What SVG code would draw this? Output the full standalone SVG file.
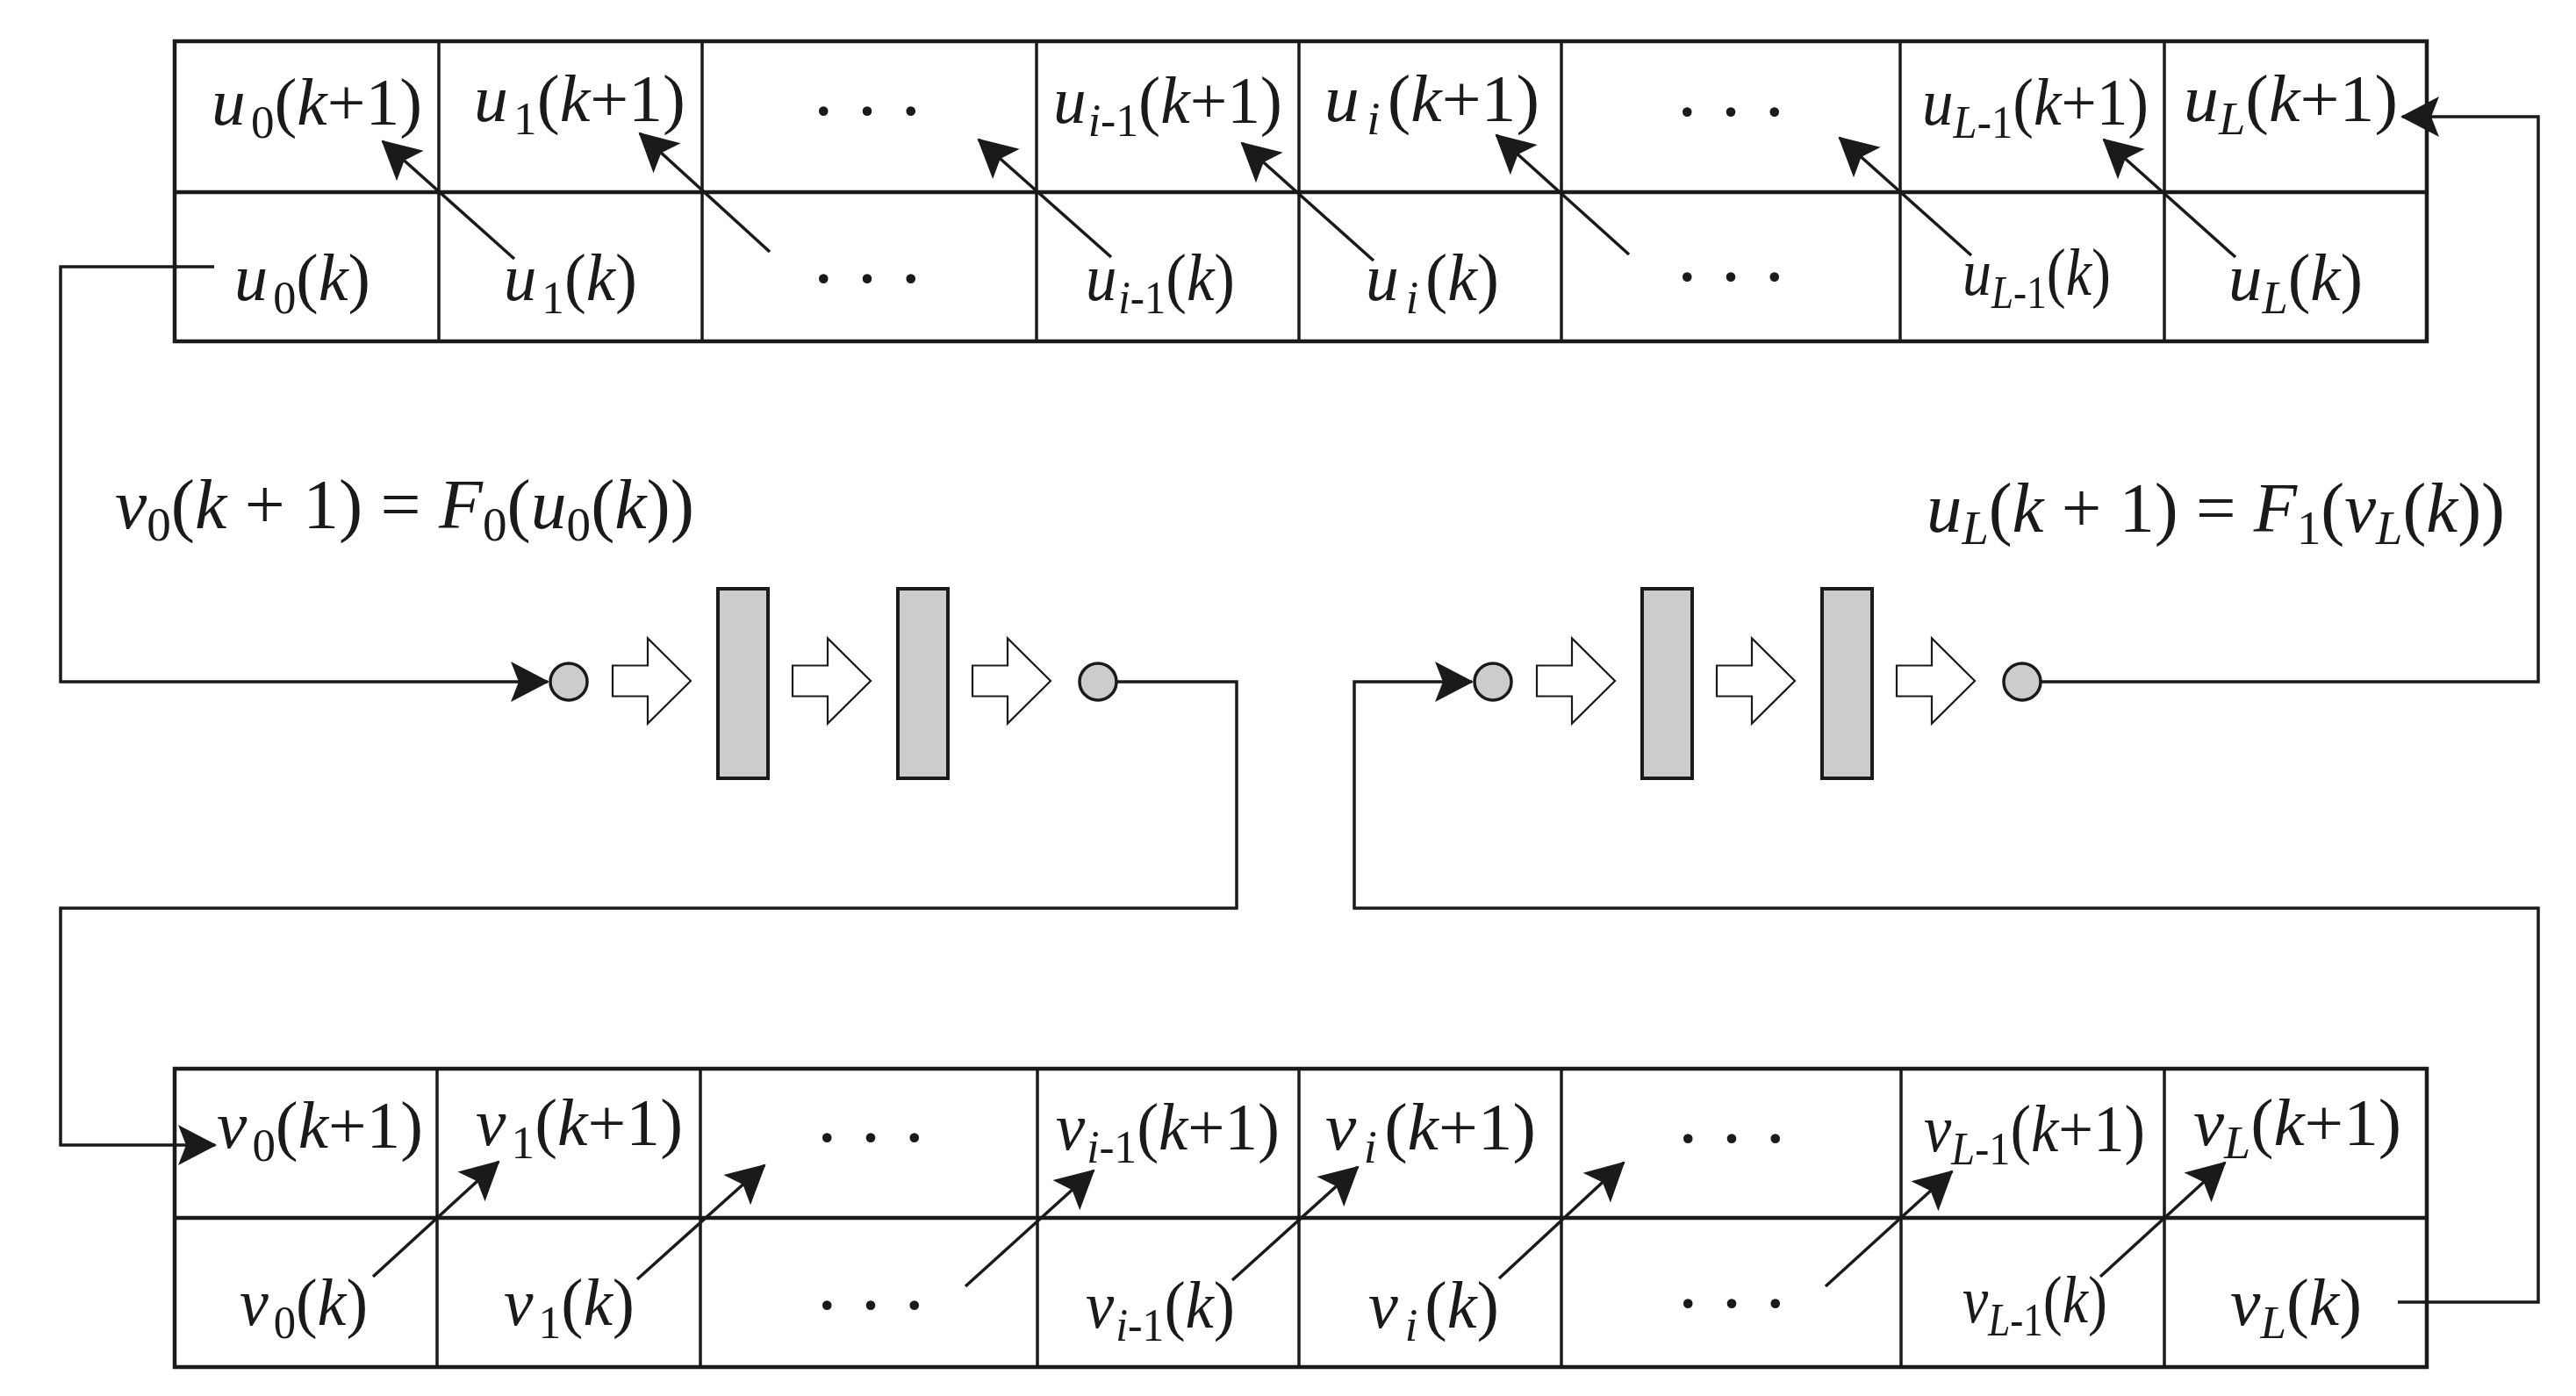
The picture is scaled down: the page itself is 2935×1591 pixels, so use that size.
<svg xmlns="http://www.w3.org/2000/svg" width="2935" height="1591" viewBox="0 0 2935 1591">
<style>
.t{font-family:"Liberation Serif","Times New Roman",serif;font-size:76px;fill:#1a1a1a}
.f{font-family:"Liberation Serif","Times New Roman",serif;font-size:80px;fill:#1a1a1a}
.d{font-family:"Liberation Serif","Times New Roman",serif;font-size:90px;fill:#1a1a1a}
.i{font-style:italic}
.s{font-size:52px}
.fs{font-size:54px}
.hl{stroke:#1a1a1a;stroke-width:4.5;fill:none}
.vl{stroke:#1a1a1a;stroke-width:3.5;fill:none}
.al{stroke:#1a1a1a;stroke-width:3.5;fill:none;marker-end:url(#ah)}
.cn{stroke:#1a1a1a;stroke-width:3.5;fill:none}
.ca{stroke:#1a1a1a;stroke-width:3.5;fill:none;marker-end:url(#ah)}
.node{fill:#cccccc;stroke:#1a1a1a;stroke-width:3.5}
.bar{fill:#cccccc;stroke:#1a1a1a;stroke-width:4}
.blk{fill:#ffffff;stroke:#1a1a1a;stroke-width:2.2}
</style>
<defs>
<marker id="ah" markerUnits="userSpaceOnUse" viewBox="-46 -26 50 52" markerWidth="50" markerHeight="52" refX="0" refY="0" orient="auto">
<path d="M2,0 L-42,-23 L-33,0 L-42,23 Z" fill="#1a1a1a"/>
</marker>
</defs>
<rect width="2935" height="1591" fill="#ffffff"/>

<!-- Top table (u) -->
<g id="u-table">
<rect class="hl" x="199" y="47" width="2566" height="342"/>
<line class="hl" x1="199" y1="219" x2="2765" y2="219"/>
<line class="vl" x1="500" y1="47" x2="500" y2="389"/>
<line class="vl" x1="800" y1="47" x2="800" y2="389"/>
<line class="vl" x1="1181" y1="47" x2="1181" y2="389"/>
<line class="vl" x1="1480" y1="47" x2="1480" y2="389"/>
<line class="vl" x1="1779" y1="47" x2="1779" y2="389"/>
<line class="vl" x1="2165" y1="47" x2="2165" y2="389"/>
<line class="vl" x1="2466" y1="47" x2="2466" y2="389"/>
</g>
<g id="u0-k1"><text class="t" x="241" y="142" textLength="240" lengthAdjust="spacingAndGlyphs"><tspan class="i">u</tspan><tspan class="s" dx="6" dy="15">0</tspan><tspan dy="-15">(</tspan><tspan class="i">k</tspan>+1)</text></g>
<g id="u1-k1"><text class="t" x="540" y="138" textLength="241" lengthAdjust="spacingAndGlyphs"><tspan class="i">u</tspan><tspan class="s" dx="6" dy="15">1</tspan><tspan dy="-15">(</tspan><tspan class="i">k</tspan>+1)</text></g>
<g id="udots-k1"><text class="d" x="927" y="131" textLength="122" lengthAdjust="spacing">. . .</text></g>
<g id="uim1-k1"><text class="t" x="1200" y="140" textLength="261" lengthAdjust="spacingAndGlyphs"><tspan class="i">u</tspan><tspan class="s" dx="2" dy="15"><tspan class="i">i</tspan>-1</tspan><tspan dy="-15">(</tspan><tspan class="i">k</tspan>+1)</text></g>
<g id="ui-k1"><text class="t" x="1509" y="138" textLength="245" lengthAdjust="spacingAndGlyphs"><tspan class="i">u</tspan><tspan class="s i" dx="8" dy="15">i</tspan><tspan dx="8" dy="-15">(</tspan><tspan class="i">k</tspan>+1)</text></g>
<g id="udots2-k1"><text class="d" x="1911" y="132" textLength="122" lengthAdjust="spacing">. . .</text></g>
<g id="uLm1-k1"><text class="t" x="2190" y="142" textLength="258" lengthAdjust="spacingAndGlyphs"><tspan class="i">u</tspan><tspan class="s" dy="15"><tspan class="i">L</tspan>-1</tspan><tspan dy="-15">(</tspan><tspan class="i">k</tspan>+1)</text></g>
<g id="uL-k1"><text class="t" x="2488" y="138" textLength="244" lengthAdjust="spacingAndGlyphs"><tspan class="i">u</tspan><tspan class="s i" dy="15">L</tspan><tspan dy="-15">(</tspan><tspan class="i">k</tspan>+1)</text></g>

<g id="u0-k"><text class="t" x="267" y="342" textLength="155" lengthAdjust="spacingAndGlyphs"><tspan class="i">u</tspan><tspan class="s" dx="6" dy="15">0</tspan><tspan dy="-15">(</tspan><tspan class="i">k</tspan>)</text></g>
<g id="u1-k"><text class="t" x="574" y="342" textLength="152" lengthAdjust="spacingAndGlyphs"><tspan class="i">u</tspan><tspan class="s" dx="6" dy="15">1</tspan><tspan dy="-15">(</tspan><tspan class="i">k</tspan>)</text></g>
<g id="udots-k"><text class="d" x="927" y="322" textLength="122" lengthAdjust="spacing">. . .</text></g>
<g id="uim1-k"><text class="t" x="1237" y="342" textLength="170" lengthAdjust="spacingAndGlyphs"><tspan class="i">u</tspan><tspan class="s" dx="2" dy="15"><tspan class="i">i</tspan>-1</tspan><tspan dy="-15">(</tspan><tspan class="i">k</tspan>)</text></g>
<g id="ui-k"><text class="t" x="1556" y="342" textLength="152" lengthAdjust="spacingAndGlyphs"><tspan class="i">u</tspan><tspan class="s i" dx="8" dy="15">i</tspan><tspan dx="8" dy="-15">(</tspan><tspan class="i">k</tspan>)</text></g>
<g id="udots2-k"><text class="d" x="1911" y="320" textLength="122" lengthAdjust="spacing">. . .</text></g>
<g id="uLm1-k"><text class="t" x="2236" y="336" textLength="169" lengthAdjust="spacingAndGlyphs"><tspan class="i">u</tspan><tspan class="s" dy="15"><tspan class="i">L</tspan>-1</tspan><tspan dy="-15">(</tspan><tspan class="i">k</tspan>)</text></g>
<g id="uL-k"><text class="t" x="2539" y="342" textLength="153" lengthAdjust="spacingAndGlyphs"><tspan class="i">u</tspan><tspan class="s i" dy="15">L</tspan><tspan dy="-15">(</tspan><tspan class="i">k</tspan>)</text></g>

<!-- Bottom table (v) -->
<g id="v-table">
<rect class="hl" x="199" y="1218" width="2566" height="340"/>
<line class="hl" x1="199" y1="1388" x2="2765" y2="1388"/>
<line class="vl" x1="498" y1="1218" x2="498" y2="1558"/>
<line class="vl" x1="798" y1="1218" x2="798" y2="1558"/>
<line class="vl" x1="1182" y1="1218" x2="1182" y2="1558"/>
<line class="vl" x1="1480" y1="1218" x2="1480" y2="1558"/>
<line class="vl" x1="1779" y1="1218" x2="1779" y2="1558"/>
<line class="vl" x1="2166" y1="1218" x2="2166" y2="1558"/>
<line class="vl" x1="2466" y1="1218" x2="2466" y2="1558"/>
</g>
<g id="v0-k1"><text class="t" x="247" y="1308" textLength="235" lengthAdjust="spacingAndGlyphs"><tspan class="i">v</tspan><tspan class="s" dx="6" dy="15">0</tspan><tspan dy="-15">(</tspan><tspan class="i">k</tspan>+1)</text></g>
<g id="v1-k1"><text class="t" x="542" y="1305" textLength="236" lengthAdjust="spacingAndGlyphs"><tspan class="i">v</tspan><tspan class="s" dx="6" dy="15">1</tspan><tspan dy="-15">(</tspan><tspan class="i">k</tspan>+1)</text></g>
<g id="vdots-k1"><text class="d" x="931" y="1301" textLength="122" lengthAdjust="spacing">. . .</text></g>
<g id="vim1-k1"><text class="t" x="1203" y="1310" textLength="255" lengthAdjust="spacingAndGlyphs"><tspan class="i">v</tspan><tspan class="s" dx="2" dy="15"><tspan class="i">i</tspan>-1</tspan><tspan dy="-15">(</tspan><tspan class="i">k</tspan>+1)</text></g>
<g id="vi-k1"><text class="t" x="1510" y="1310" textLength="240" lengthAdjust="spacingAndGlyphs"><tspan class="i">v</tspan><tspan class="s i" dx="8" dy="15">i</tspan><tspan dx="8" dy="-15">(</tspan><tspan class="i">k</tspan>+1)</text></g>
<g id="vdots2-k1"><text class="d" x="1912" y="1302" textLength="122" lengthAdjust="spacing">. . .</text></g>
<g id="vLm1-k1"><text class="t" x="2192" y="1312" textLength="252" lengthAdjust="spacingAndGlyphs"><tspan class="i">v</tspan><tspan class="s" dy="15"><tspan class="i">L</tspan>-1</tspan><tspan dy="-15">(</tspan><tspan class="i">k</tspan>+1)</text></g>
<g id="vL-k1"><text class="t" x="2499" y="1305" textLength="237" lengthAdjust="spacingAndGlyphs"><tspan class="i">v</tspan><tspan class="s i" dy="15">L</tspan><tspan dy="-15">(</tspan><tspan class="i">k</tspan>+1)</text></g>

<g id="v0-k"><text class="t" x="273" y="1510" textLength="146" lengthAdjust="spacingAndGlyphs"><tspan class="i">v</tspan><tspan class="s" dx="6" dy="15">0</tspan><tspan dy="-15">(</tspan><tspan class="i">k</tspan>)</text></g>
<g id="v1-k"><text class="t" x="574" y="1510" textLength="149" lengthAdjust="spacingAndGlyphs"><tspan class="i">v</tspan><tspan class="s" dx="6" dy="15">1</tspan><tspan dy="-15">(</tspan><tspan class="i">k</tspan>)</text></g>
<g id="vdots-k"><text class="d" x="931" y="1492" textLength="122" lengthAdjust="spacing">. . .</text></g>
<g id="vim1-k"><text class="t" x="1237" y="1513" textLength="170" lengthAdjust="spacingAndGlyphs"><tspan class="i">v</tspan><tspan class="s" dx="2" dy="15"><tspan class="i">i</tspan>-1</tspan><tspan dy="-15">(</tspan><tspan class="i">k</tspan>)</text></g>
<g id="vi-k"><text class="t" x="1559" y="1513" textLength="149" lengthAdjust="spacingAndGlyphs"><tspan class="i">v</tspan><tspan class="s i" dx="8" dy="15">i</tspan><tspan dx="8" dy="-15">(</tspan><tspan class="i">k</tspan>)</text></g>
<g id="vdots2-k"><text class="d" x="1912" y="1490" textLength="122" lengthAdjust="spacing">. . .</text></g>
<g id="vLm1-k"><text class="t" x="2236" y="1507" textLength="165" lengthAdjust="spacingAndGlyphs"><tspan class="i">v</tspan><tspan class="s" dy="15"><tspan class="i">L</tspan>-1</tspan><tspan dy="-15">(</tspan><tspan class="i">k</tspan>)</text></g>
<g id="vL-k"><text class="t" x="2541" y="1510" textLength="150" lengthAdjust="spacingAndGlyphs"><tspan class="i">v</tspan><tspan class="s i" dy="15">L</tspan><tspan dy="-15">(</tspan><tspan class="i">k</tspan>)</text></g>

<!-- Formulas -->
<g id="formula-F0"><text class="f" x="131" y="602" textLength="660" lengthAdjust="spacingAndGlyphs"><tspan class="i">v</tspan><tspan class="fs" dy="14">0</tspan><tspan dy="-14">(</tspan><tspan class="i">k</tspan> + 1) = <tspan class="i">F</tspan><tspan class="fs" dy="14">0</tspan><tspan dy="-14">(</tspan><tspan class="i">u</tspan><tspan class="fs" dy="14">0</tspan><tspan dy="-14">(</tspan><tspan class="i">k</tspan>))</text></g>
<g id="formula-F1"><text class="f" x="2195" y="606" textLength="659" lengthAdjust="spacingAndGlyphs"><tspan class="i">u</tspan><tspan class="fs i" dy="14">L</tspan><tspan dy="-14">(</tspan><tspan class="i">k</tspan> + 1) = <tspan class="i">F</tspan><tspan class="fs" dy="14">1</tspan><tspan dy="-14">(</tspan><tspan class="i">v</tspan><tspan class="fs i" dy="14">L</tspan><tspan dy="-14">(</tspan><tspan class="i">k</tspan>))</text></g>

<!-- Left processing chain F0 -->
<g id="F0-in"><circle class="node" cx="648" cy="777" r="21"/></g>
<g id="F0-a1"><path class="blk" d="M698,758.5 H738 V727.5 L787,776 L738,824.5 V793.5 H698 Z"/></g>
<g id="F0-bar1"><rect class="bar" x="818" y="671" width="57" height="216"/></g>
<g id="F0-a2"><path class="blk" d="M903,758.5 H943 V727.5 L992,776 L943,824.5 V793.5 H903 Z"/></g>
<g id="F0-bar2"><rect class="bar" x="1023" y="671" width="57" height="216"/></g>
<g id="F0-a3"><path class="blk" d="M1108,758.5 H1148 V727.5 L1197,776 L1148,824.5 V793.5 H1108 Z"/></g>
<g id="F0-out"><circle class="node" cx="1251" cy="777" r="21"/></g>

<!-- Right processing chain F1 -->
<g id="F1-in"><circle class="node" cx="1701" cy="777" r="21"/></g>
<g id="F1-a1"><path class="blk" d="M1751,758.5 H1791 V727.5 L1840,776 L1791,824.5 V793.5 H1751 Z"/></g>
<g id="F1-bar1"><rect class="bar" x="1871" y="671" width="57" height="216"/></g>
<g id="F1-a2"><path class="blk" d="M1956,758.5 H1996 V727.5 L2045,776 L1996,824.5 V793.5 H1956 Z"/></g>
<g id="F1-bar2"><rect class="bar" x="2076" y="671" width="57" height="216"/></g>
<g id="F1-a3"><path class="blk" d="M2161,758.5 H2201 V727.5 L2250,776 L2201,824.5 V793.5 H2161 Z"/></g>
<g id="F1-out"><circle class="node" cx="2304" cy="777" r="21"/></g>

<!-- Connectors -->
<g id="connectors">
<line class="al" x1="586" y1="295" x2="436" y2="161"/>
<line class="al" x1="877" y1="287" x2="729" y2="152"/>
<line class="al" x1="1266" y1="293" x2="1115" y2="159"/>
<line class="al" x1="1565" y1="297" x2="1415" y2="163"/>
<line class="al" x1="1856" y1="290" x2="1705" y2="154"/>
<line class="al" x1="2246" y1="291" x2="2096" y2="157"/>
<line class="al" x1="2547" y1="293" x2="2397" y2="159"/>

<line class="al" x1="425" y1="1455" x2="568" y2="1324"/>
<line class="al" x1="726" y1="1458" x2="871" y2="1328"/>
<line class="al" x1="1100" y1="1466" x2="1246" y2="1334"/>
<line class="al" x1="1404" y1="1459" x2="1547" y2="1330"/>
<line class="al" x1="1708" y1="1457" x2="1850" y2="1325"/>
<line class="al" x1="2080" y1="1466" x2="2224" y2="1335"/>
<line class="al" x1="2393" y1="1455" x2="2535" y2="1325"/>

<path class="ca" d="M244,304 H69 V777 H624"/>
<path class="ca" d="M1272,777 H1409 V1035 H69 V1305 H245"/>
<path class="ca" d="M2732,1484 H2892 V1035 H1543 V777 H1677"/>
<path class="ca" d="M2325,777 H2892 V133 H2737"/>
</g>
</svg>
